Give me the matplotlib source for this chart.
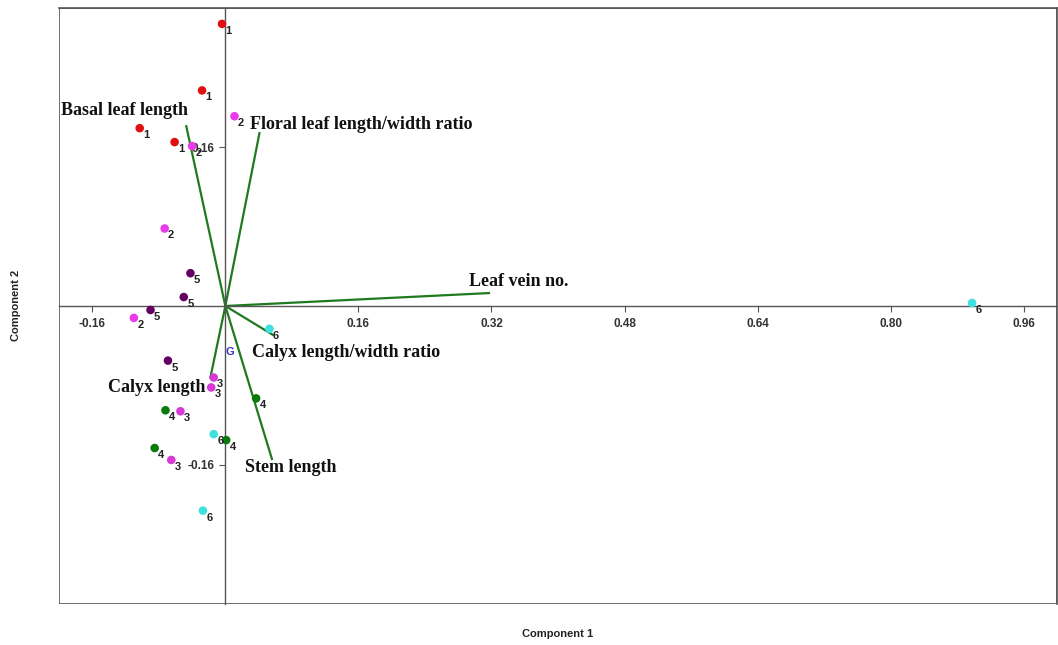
import numpy as np
import matplotlib
matplotlib.use("Agg")
import matplotlib.pyplot as plt
from matplotlib.patches import Rectangle

# scores per group (component 1, component 2)
group_names = ["1", "2", "3", "4", "5", "6"]
group_colors = ["#e01010", "#e83ae8", "#d838d8", "#0a7a0a", "#640064", "#3ee0e0"]
group_x = [
    [-0.004, -0.028, -0.103, -0.061],
    [0.011, -0.040, -0.073, -0.110],
    [-0.014, -0.017, -0.054, -0.065],
    [-0.072, -0.085, 0.001, 0.037],
    [-0.042, -0.050, -0.090, -0.069],
    [-0.014, -0.027, 0.053, 0.898],
]
group_y = [
    [0.284, 0.217, 0.179, 0.165],
    [0.191, 0.161, 0.078, -0.012],
    [-0.072, -0.082, -0.106, -0.155],
    [-0.105, -0.143, -0.135, -0.093],
    [0.033, 0.009, -0.004, -0.055],
    [-0.129, -0.206, -0.023, 0.003],
]

# loadings
var_names = ["Basal leaf length", "Floral leaf length/width ratio", "Leaf vein no.",
             "Calyx length/width ratio", "Stem length", "Calyx length"]
var_x = [-0.047, 0.041, 0.317, 0.057, 0.056, -0.018]
var_y = [0.181, 0.174, 0.013, -0.029, -0.154, -0.072]
# label anchor offsets (points) from the arrow tip
var_label_offsets = [(-90, 11), (-6.5, 6.5), (-14.5, 8.5), (-15, -13), (-19.5, -6), (-74, -7)]

xticks = [-0.16, 0.16, 0.32, 0.48, 0.64, 0.80, 0.96]
xticklabels = ["-0.16", "0.16", "0.32", "0.48", "0.64", "0.80", "0.96"]
yticks = [-0.16, 0.16]
yticklabels = ["-0.16", "0.16"]

fig = plt.figure(figsize=(10.58, 6.45), dpi=100)
ax = fig.add_axes([0.0558, 0.0636, 0.9432, 0.924])
ax.set_xlim(-0.2, 1.0)
ax.set_ylim(-0.3, 0.3)

for side in ["left", "bottom"]:
    ax.spines[side].set_position(("data", 0))
    ax.spines[side].set_color("#555555")
    ax.spines[side].set_linewidth(1.0)
for side in ["top", "right"]:
    ax.spines[side].set_color("#555555")
    ax.spines[side].set_linewidth(1.2)
ax.add_patch(Rectangle((0, 0), 1, 1, transform=ax.transAxes, fill=False,
                       edgecolor="#555555", linewidth=1.2, zorder=0.5))

ax.set_xticks(xticks)
ax.set_xticklabels(xticklabels)
ax.set_yticks(yticks)
ax.set_yticklabels(yticklabels)
ax.tick_params(axis="both", direction="out", length=4, width=0.8, color="#555555",
               labelsize=8.5, labelcolor="#333333")
ax.tick_params(axis="x", pad=5)
ax.tick_params(axis="y", pad=4)
for lab in ax.get_xticklabels() + ax.get_yticklabels():
    lab.set_fontweight("bold")
    lab.set_fontfamily("Liberation Sans")

# loading vectors
for name, vx, vy, off in zip(var_names, var_x, var_y, var_label_offsets):
    ax.plot([0, vx], [0, vy], color="#1f7a1f", linewidth=1.6, zorder=2)
    ax.annotate(name, (vx, vy), xytext=off, textcoords="offset points",
                fontsize=13, fontweight="bold", family="Liberation Serif",
                color="#111111", ha="left", va="center", zorder=4)

# scores
for name, col, xs, ys in zip(group_names, group_colors, group_x, group_y):
    ax.scatter(xs, ys, s=38, color=col, edgecolors="none", zorder=3)
    for x, y in zip(xs, ys):
        ax.annotate(name, (x, y), xytext=(2.5, -5), textcoords="offset points",
                    fontsize=8, fontweight="bold", family="Liberation Sans",
                    color="#222222", ha="left", va="center", zorder=4)

ax.text(0.006, -0.046, "G", color="#3333cc", fontsize=8, fontweight="bold",
        family="Liberation Sans", ha="center", va="center", zorder=4)

fig.text(0.527, 0.017, "Component 1", ha="center", va="center", fontsize=8,
         fontweight="bold", family="Liberation Sans", color="#222222")
fig.text(0.015, 0.527, "Component 2", ha="center", va="center", fontsize=8,
         fontweight="bold", family="Liberation Sans", color="#222222", rotation=90)

fig.savefig("out.png", dpi=100, facecolor="white")
